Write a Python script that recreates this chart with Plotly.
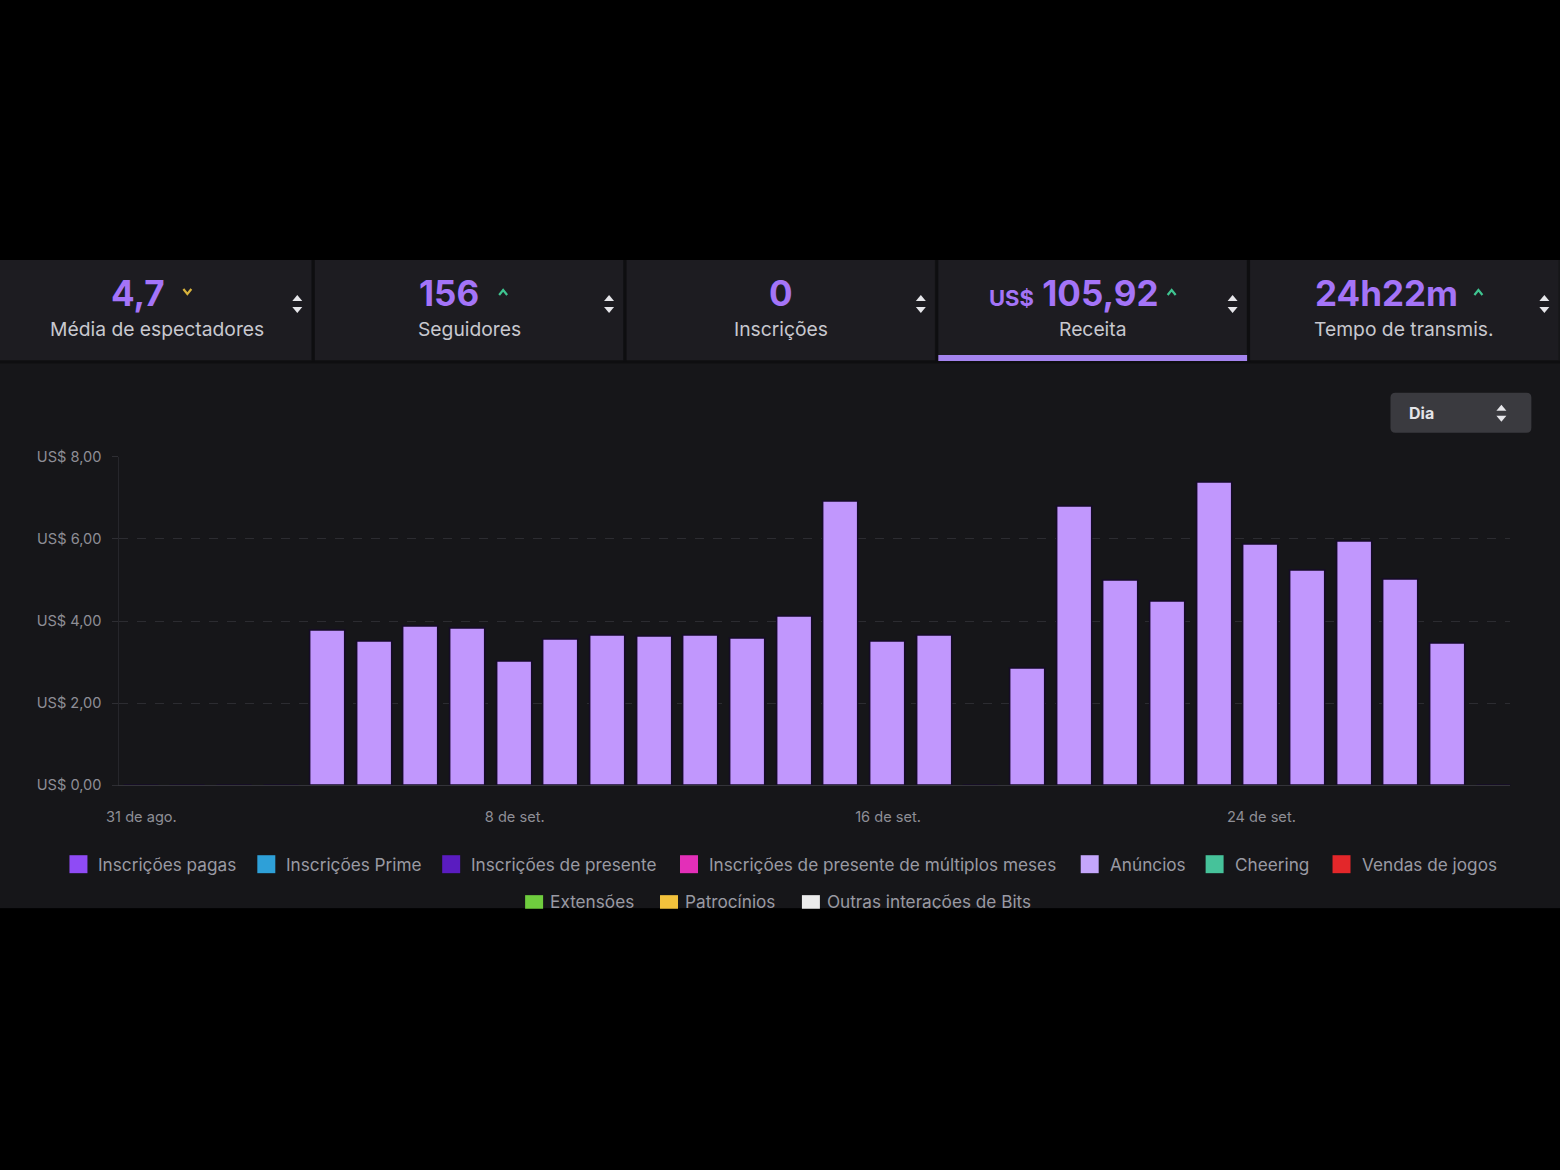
import plotly.graph_objects as go

W, H = 1560, 1170

# measured placement of the figure inside the photographed page
OX, SX = 11.5, 0.9924
OY, SY = 8.6, 0.986

# daily ad revenue (US$), 31 Aug .. 29 Sep
days = [
    "2021-08-31", "2021-09-01", "2021-09-02", "2021-09-03", "2021-09-04",
    "2021-09-05", "2021-09-06", "2021-09-07", "2021-09-08", "2021-09-09",
    "2021-09-10", "2021-09-11", "2021-09-12", "2021-09-13", "2021-09-14",
    "2021-09-15", "2021-09-16", "2021-09-17", "2021-09-18", "2021-09-19",
    "2021-09-20", "2021-09-21", "2021-09-22", "2021-09-23", "2021-09-24",
    "2021-09-25", "2021-09-26", "2021-09-27", "2021-09-28", "2021-09-29",
]
revenue = [
    0, 0, 0, 0, 3.76,
    3.49, 3.85, 3.80, 3.02, 3.54,
    3.63, 3.61, 3.63, 3.56, 4.10,
    6.90, 3.49, 3.63, 0, 2.85,
    6.78, 4.98, 4.46, 7.37, 5.85,
    5.22, 5.93, 5.00, 3.44, 0,
]

y_ticks = [0, 2, 4, 6, 8]
y_labels = ["US$ 0,00", "US$ 2,00", "US$ 4,00", "US$ 6,00", "US$ 8,00"]
x_ticks = ["2021-08-31", "2021-09-08", "2021-09-16", "2021-09-24"]
x_labels = ["31 de ago.", "8 de set.", "16 de set.", "24 de set."]

stat_values = ["4,7", "156", "0", "<span style='font-size:22px'>US$</span> 105,92", "24h22m"]
stat_labels = ["Média de espectadores", "Seguidores", "Inscrições", "Receita", "Tempo de transmis."]
stat_trend = ["down", "up", None, "up", "up"]

legend_labels = [
    "Inscrições pagas", "Inscrições Prime", "Inscrições de presente",
    "Inscrições de presente de múltiplos meses", "Anúncios", "Cheering",
    "Vendas de jogos", "Extensões", "Patrocínios", "Outras interações de Bits",
]
legend_colors = [
    "#8f4bf5", "#2ea0d8", "#5a1cc0", "#e32fb8", "#c4a6fb", "#46c29a",
    "#e3272a", "#6fcd3e", "#f2c23c", "#ececec",
]

FONT = "Inter, Roboto, sans-serif"
BAR = "#c197fd"
LEG_TXT = "#9a9aa3"


def X(px):
    return (px - OX) / SX / W


def Y(py):
    return 1 - (py - OY) / SY / H


def ann(px, py, text, size, color, xanchor="center"):
    return dict(x=X(px), y=Y(py), xref="paper", yref="paper", xanchor=xanchor,
                yanchor="middle", text=text, showarrow=False,
                font=dict(family=FONT, size=size, color=color))


fig = go.Figure()

fig.add_trace(
    go.Bar(
        x=days,
        y=revenue,
        width=0.75 * 86400000,
        marker=dict(color=BAR, line=dict(color="#160b29", width=1.5)),
        hovertemplate="%{x}<br>US$ %{y:.2f}<extra></extra>",
        showlegend=False,
    )
)

shapes = []
annotations = []

# dark panel
shapes.append(dict(type="rect", xref="paper", yref="paper", x0=X(-20), x1=X(1580),
                   y0=Y(909), y1=Y(260), fillcolor="#161619", line_width=0, layer="below"))
# stat cells
for i in range(5):
    shapes.append(dict(type="rect", xref="paper", yref="paper",
                       x0=X(i * 312 - (20 if i == 0 else 0)), x1=X(i * 312 + 310),
                       y0=Y(360), y1=Y(260),
                       fillcolor="#1d1c21", line_width=0, layer="below"))
shapes.append(dict(type="line", xref="paper", yref="paper", x0=X(-20), x1=X(1580),
                   y0=Y(362), y1=Y(362), line=dict(color="#0e0e10", width=3), layer="below"))
# selected tab underline
shapes.append(dict(type="rect", xref="paper", yref="paper", x0=X(937), x1=X(1248),
                   y0=Y(361), y1=Y(355), fillcolor="#a484ee", line_width=0))

value_x = [137, 448, 780, 1073, 1386]
chev_x = [186, 502, None, 1171, 1478]
for i in range(5):
    cx = i * 312 + 156
    annotations.append(ann(value_x[i], 293, "<b>%s</b>" % stat_values[i], 35, "#a474f8"))
    annotations.append(ann(cx, 329, stat_labels[i], 19.3, "#c8c8cf"))
    if stat_trend[i]:
        c = chev_x[i]
        if stat_trend[i] == "up":
            p = "M %f,%f L %f,%f L %f,%f" % (X(c - 4), Y(295), X(c), Y(290), X(c + 4), Y(295))
            col = "#3fc490"
        else:
            p = "M %f,%f L %f,%f L %f,%f" % (X(c - 4), Y(289), X(c), Y(294), X(c + 4), Y(289))
            col = "#d7b23c"
        shapes.append(dict(type="path", xref="paper", yref="paper", path=p,
                           line=dict(color=col, width=2.2)))
    # sort arrows
    ax = (i + 1) * 312 - 16
    for a, tip in [(301, 295), (307, 313)]:
        p = "M %f,%f L %f,%f L %f,%f Z" % (X(ax - 5), Y(a), X(ax + 5), Y(a), X(ax), Y(tip))
        shapes.append(dict(type="path", xref="paper", yref="paper", path=p,
                           fillcolor="#e6e6ea", line_width=0))

# vertical separators
for sx in [312, 624, 936, 1248]:
    shapes.append(dict(type="line", xref="paper", yref="paper", x0=X(sx), x1=X(sx),
                       y0=Y(362), y1=Y(260), line=dict(color="#0e0e10", width=3)))

# "Dia" selector
x0, x1, y0, y1, r = 1390, 1531, 393, 433, 5
p = ("M %f,%f L %f,%f Q %f,%f %f,%f L %f,%f Q %f,%f %f,%f L %f,%f Q %f,%f %f,%f "
     "L %f,%f Q %f,%f %f,%f Z") % (
    X(x0 + r), Y(y0), X(x1 - r), Y(y0), X(x1), Y(y0), X(x1), Y(y0 + r),
    X(x1), Y(y1 - r), X(x1), Y(y1), X(x1 - r), Y(y1),
    X(x0 + r), Y(y1), X(x0), Y(y1), X(x0), Y(y1 - r),
    X(x0), Y(y0 + r), X(x0), Y(y0), X(x0 + r), Y(y0))
shapes.append(dict(type="path", xref="paper", yref="paper", path=p,
                   fillcolor="#3a3a3f", line_width=0, layer="below"))
annotations.append(ann(1407, 413, "<b>Dia</b>", 16, "#e4e4e8", xanchor="left"))
for a, tip in [(411, 405), (416, 422)]:
    p = "M %f,%f L %f,%f L %f,%f Z" % (X(1496), Y(a), X(1506), Y(a), X(1501), Y(tip))
    shapes.append(dict(type="path", xref="paper", yref="paper", path=p,
                       fillcolor="#e6e6ea", line_width=0))

# legend: first row as annotations, second row as a text trace so the
# black band below the panel can cut it off like in the screenshot
leg_sq_x = [77, 265, 450, 688, 1089, 1214, 1341, 533, 668, 810]
leg_y = [865] * 7 + [905] * 3
row2_x, row2_y, row2_t = [], [], []
for lab, col, sx, sy in zip(legend_labels, legend_colors, leg_sq_x, leg_y):
    shapes.append(dict(type="rect", xref="paper", yref="paper",
                       x0=X(sx - 9), x1=X(sx + 9), y0=Y(sy + 9), y1=Y(sy - 9),
                       fillcolor=col, line_width=0))
    if sy == 865:
        annotations.append(ann(sx + 18, sy, lab, 17.2, LEG_TXT, xanchor="left"))
    else:
        row2_x.append(X(sx + 16))
        row2_y.append(Y(sy))
        row2_t.append(lab)

fig.add_trace(
    go.Scatter(
        x=row2_x, y=row2_y, text=row2_t, mode="text",
        textposition="middle right",
        textfont=dict(family=FONT, size=17.2, color=LEG_TXT),
        xaxis="x2", yaxis="y2", cliponaxis=False, hoverinfo="skip",
        showlegend=False,
    )
)

# black band under the panel
shapes.append(dict(type="rect", xref="paper", yref="paper", x0=X(-20), x1=X(1580),
                   y0=Y(1200), y1=Y(909.5), fillcolor="#000000", line_width=0,
                   layer="above"))

fig.update_layout(
    width=W,
    height=H,
    margin=dict(l=0, r=0, t=0, b=0, pad=0),
    paper_bgcolor="#000000",
    plot_bgcolor="rgba(0,0,0,0)",
    font=dict(family=FONT, color="#8e8e96"),
    showlegend=False,
    bargap=0,
    shapes=shapes,
    annotations=annotations,
    xaxis=dict(
        type="date",
        domain=[X(118), X(1510)],
        range=["2021-08-30 12:41", "2021-09-29 08:04"],
        tickvals=x_ticks,
        ticktext=x_labels,
        tickfont=dict(size=14.6, color="#8e8e96"),
        ticks="",
        ticklabelstandoff=18,
        showgrid=False,
        showline=True,
        linecolor="#34343a",
        linewidth=1,
        zeroline=False,
        fixedrange=True,
    ),
    yaxis=dict(
        domain=[Y(786), Y(457)],
        range=[0, 8],
        tickvals=y_ticks,
        ticktext=y_labels,
        tickfont=dict(size=14.6, color="#8e8e96"),
        ticks="outside",
        ticklen=6,
        tickcolor="#2e2e33",
        ticklabelstandoff=8,
        showgrid=True,
        gridcolor="#2c2c31",
        griddash="dash",
        gridwidth=1,
        showline=True,
        linecolor="#26262b",
        zeroline=False,
        fixedrange=True,
    ),
    xaxis2=dict(domain=[0, 1], range=[0, 1], visible=False, fixedrange=True,
                anchor="y2"),
    yaxis2=dict(domain=[0, 1], range=[0, 1], visible=False, fixedrange=True,
                anchor="x2"),
)

fig.write_html("out.html", config={"displayModeBar": False},
               post_script="document.body.style.margin='0';")
